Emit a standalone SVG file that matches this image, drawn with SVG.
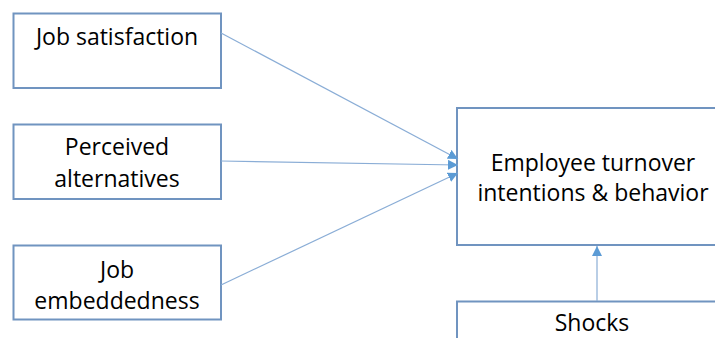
<svg xmlns="http://www.w3.org/2000/svg" width="715" height="338" viewBox="0 0 715 338">
<style>
.box{fill:#fff;stroke:#7094C0;stroke-width:2}
.t{font-family:"Open Sans","Liberation Sans",sans-serif;font-size:23px;fill:#000;text-anchor:middle}
.c{stroke:#8AADD6;stroke-width:1.2;fill:none}
</style>
<defs>
<marker id="ah" viewBox="0 0 10 10" refX="10" refY="5" markerWidth="10" markerHeight="10" markerUnits="userSpaceOnUse" orient="auto">
<path d="M0,0 L10,5 L0,10 Z" fill="#5B9BD5"/>
</marker>
</defs>
<rect width="715" height="338" fill="#fff"/>
<g id="n1"><rect class="box" x="13.5" y="13.5" width="207.5" height="74.5"/><text class="t" x="117" y="45">Job satisfaction</text></g>
<g id="n2"><rect class="box" x="13.5" y="124.5" width="207.5" height="74.5"/><text class="t" x="117" y="155">Perceived</text><text class="t" x="117" y="187">alternatives</text></g>
<g id="n3"><rect class="box" x="13.5" y="245.5" width="207.5" height="74"/><text class="t" x="117" y="278">Job</text><text class="t" x="117" y="309">embeddedness</text></g>
<g id="n4"><rect class="box" x="457" y="108" width="270" height="137"/><text class="t" x="593" y="171">Employee turnover</text><text class="t" x="593" y="201">intentions &amp; behavior</text></g>
<g id="n5"><rect class="box" x="457" y="301.5" width="270" height="50"/><text class="t" x="592" y="331">Shocks</text></g>
<g id="connectors">
<line class="c" x1="221" y1="33" x2="458" y2="159" marker-end="url(#ah)"/>
<line class="c" x1="221" y1="161" x2="458" y2="165" marker-end="url(#ah)"/>
<line class="c" x1="221" y1="285" x2="458" y2="173" marker-end="url(#ah)"/>
<line class="c" x1="597" y1="301" x2="597" y2="246" marker-end="url(#ah)"/>
</g>
</svg>
